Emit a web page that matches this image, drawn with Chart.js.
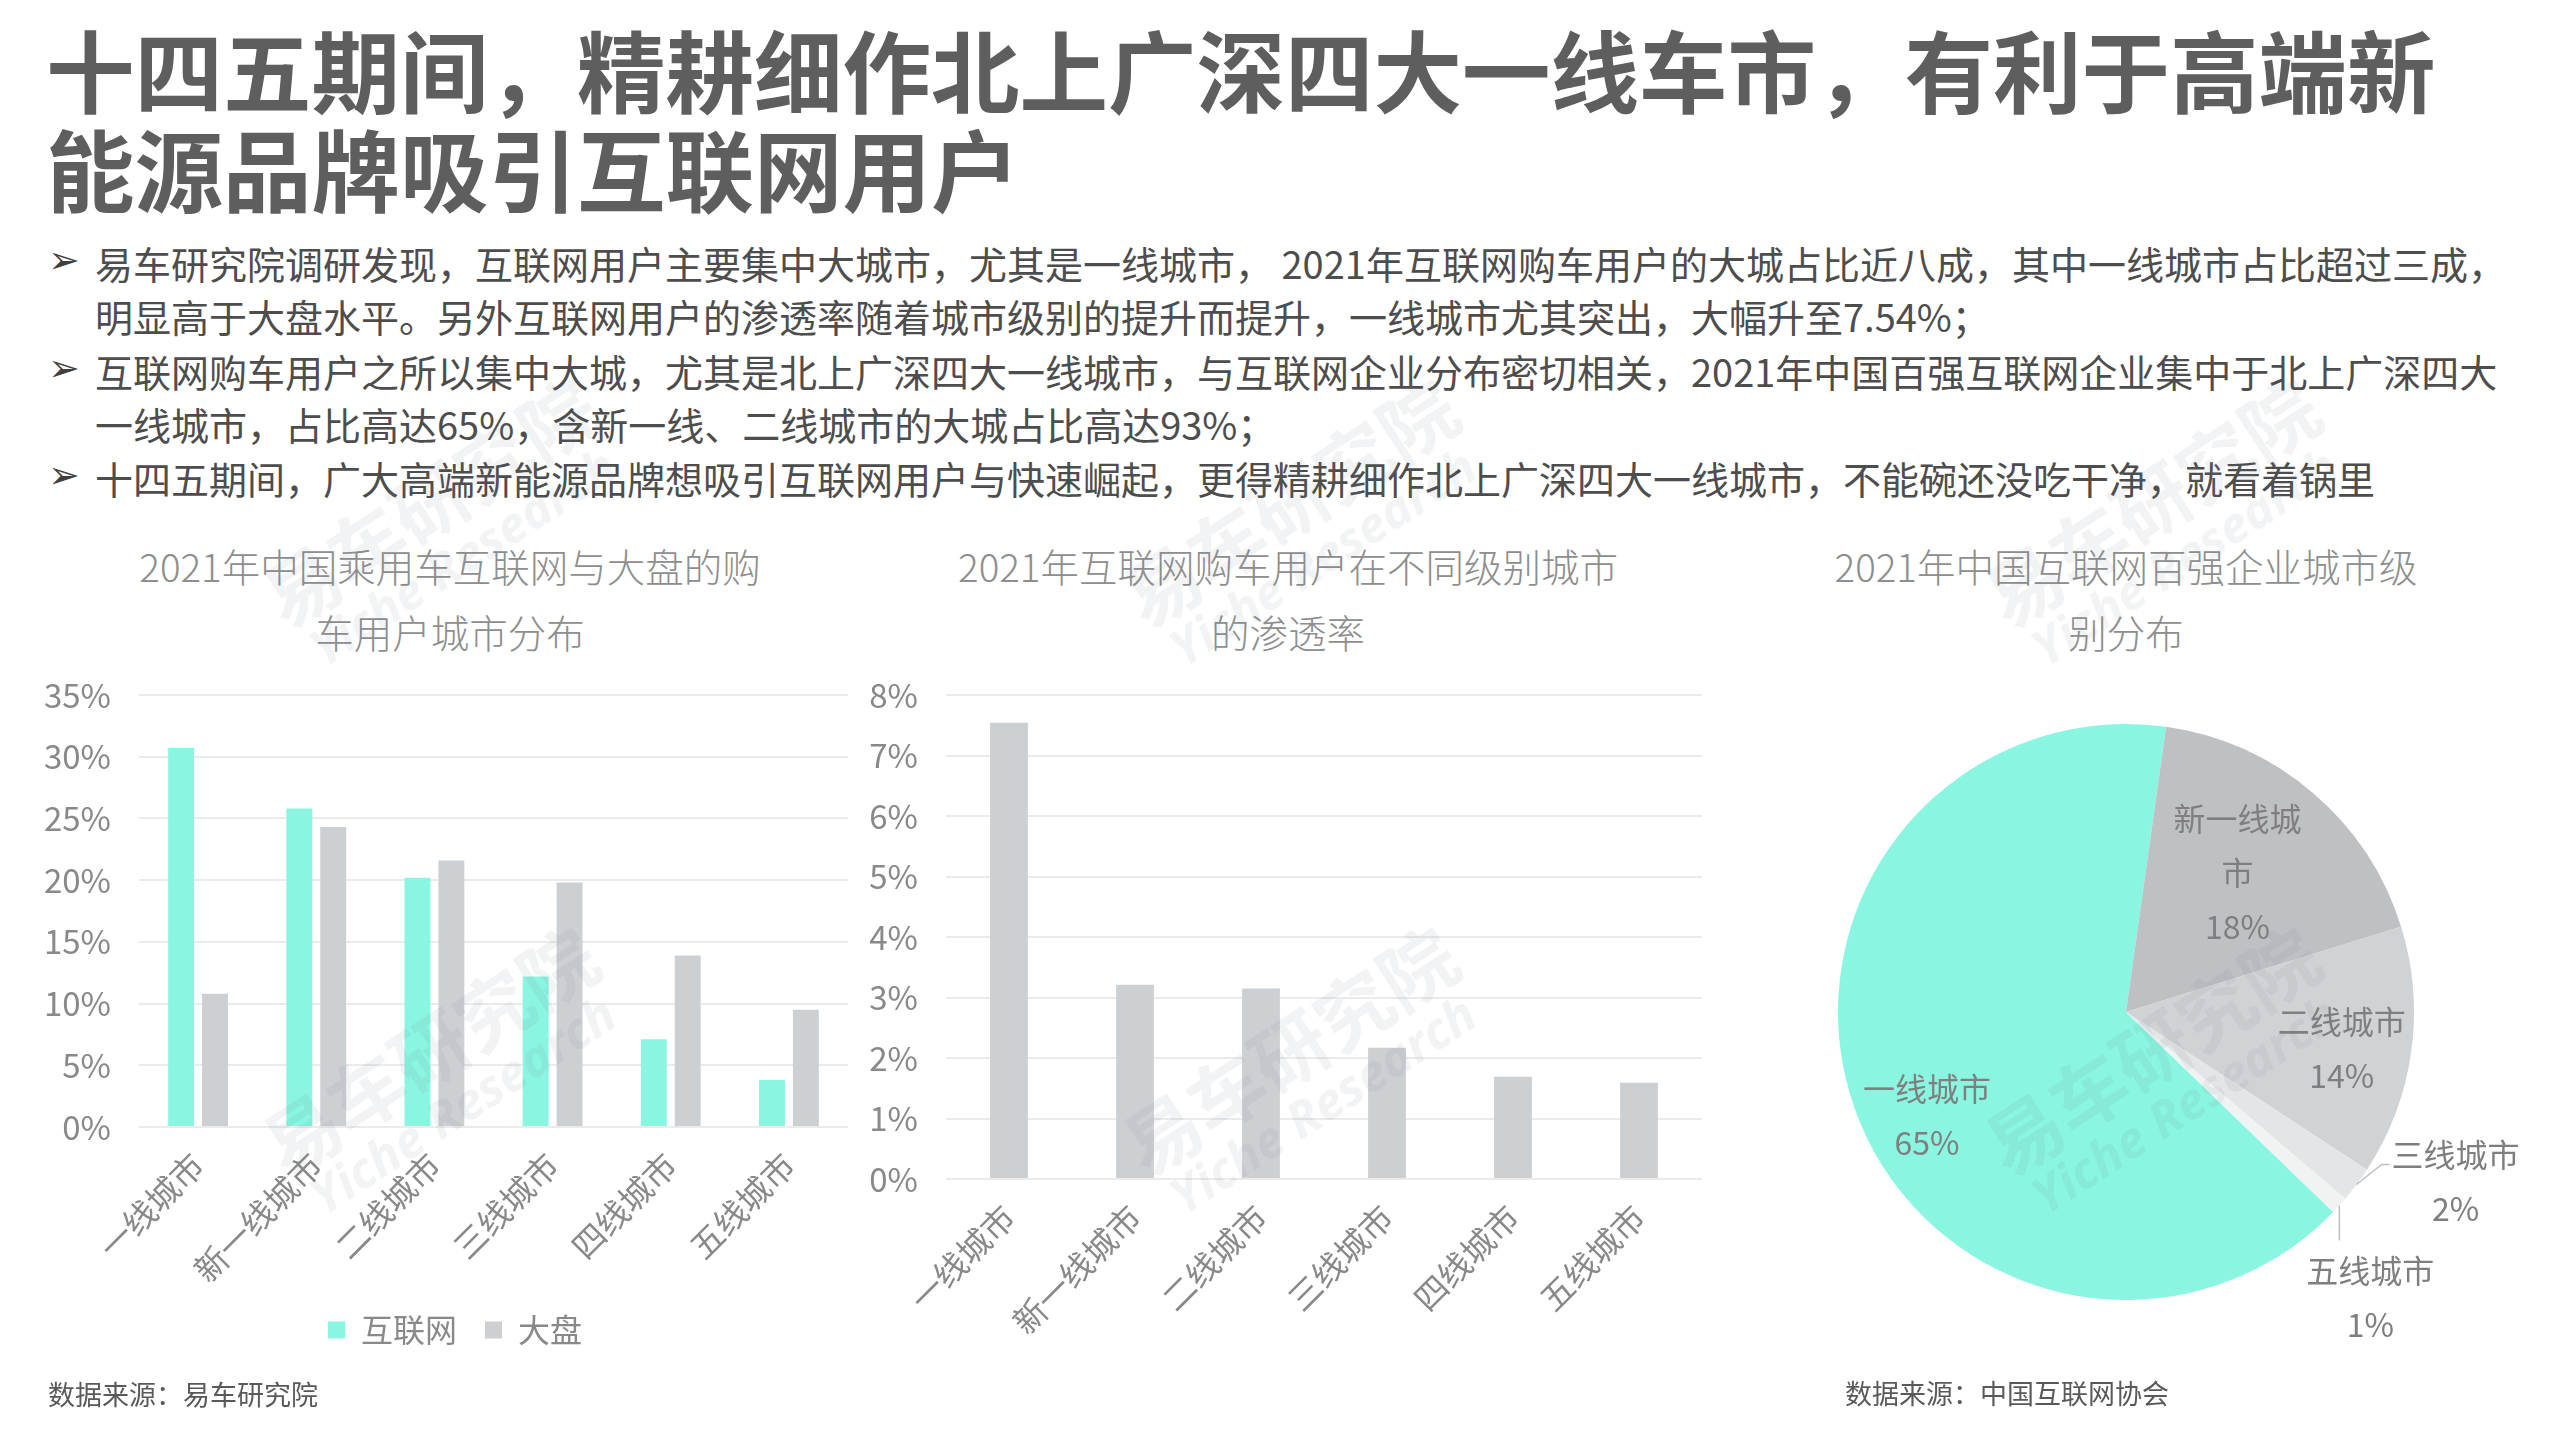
<!DOCTYPE html>
<html><head><meta charset="utf-8">
<script src="https://cdn.jsdelivr.net/npm/chart.js@4.4.1/dist/chart.umd.min.js"></script>
<style>
html,body{margin:0;padding:0;background:#fff;}
body{width:2560px;height:1440px;position:relative;overflow:hidden;font-family:"Noto Sans CJK SC","Noto Sans",sans-serif;}
.title{position:absolute;left:46px;top:18px;font-size:88.5px;font-weight:700;line-height:99px;color:#5e5e5e;white-space:nowrap;}
.bullet{position:absolute;left:95px;font-size:38px;line-height:53px;color:#4d4d4d;white-space:nowrap;}
.bullet::before{content:"➢";position:absolute;left:-47px;top:-2px;font-family:"DejaVu Sans";font-size:38px;color:#404040;}
.sub{position:absolute;width:900px;font-size:38.5px;line-height:66px;color:#8e8e8e;text-align:center;white-space:nowrap;font-weight:300;}
.src{position:absolute;font-size:27px;color:#595959;line-height:40px;white-space:nowrap;}
canvas{position:absolute;}
.wm{position:absolute;width:0;height:0;pointer-events:none;z-index:10;}
.wm div{position:absolute;left:0;top:0;transform:translate(-50%,-50%) rotate(-33deg);text-align:center;color:rgba(110,120,135,0.09);font-weight:700;white-space:nowrap;}
.wm .a{font-size:76px;line-height:80px;font-family:"Noto Sans CJK SC";}
.wm .b{font-size:50px;line-height:56px;font-family:"Open Sans","Noto Sans",sans-serif;font-style:italic;}
</style></head>
<body>
<div class="title">十四五期间，精耕细作北上广深四大一线车市，有利于高端新<br>能源品牌吸引互联网用户</div>
<div class="bullet" style="top:236px">易车研究院调研发现，互联网用户主要集中大城市，尤其是一线城市， 2021年互联网购车用户的大城占比近八成，其中一线城市占比超过三成，<br>明显高于大盘水平。另外互联网用户的渗透率随着城市级别的提升而提升，一线城市尤其突出，大幅升至7.54%；</div>
<div class="bullet" style="top:344px">互联网购车用户之所以集中大城，尤其是北上广深四大一线城市，与互联网企业分布密切相关，2021年中国百强互联网企业集中于北上广深四大<br>一线城市，占比高达65%，含新一线、二线城市的大城占比高达93%；</div>
<div class="bullet" style="top:451px">十四五期间，广大高端新能源品牌想吸引互联网用户与快速崛起，更得精耕细作北上广深四大一线城市，不能碗还没吃干净，就看着锅里</div>

<div class="sub" style="left:0px;top:532px">2021年中国乘用车互联网与大盘的购<br>车用户城市分布</div>
<div class="sub" style="left:838px;top:532px">2021年互联网购车用户在不同级别城市<br>的渗透率</div>
<div class="sub" style="left:1676px;top:532px">2021年中国互联网百强企业城市级<br>别分布</div>

<canvas id="c1" width="850" height="720" style="left:0;top:660px"></canvas>
<canvas id="c2" width="890" height="720" style="left:850px;top:660px"></canvas>
<canvas id="c3" width="780" height="700" style="left:1780px;top:680px"></canvas>

<div class="src" style="left:48px;top:1374px">数据来源：易车研究院</div>
<div class="src" style="left:1845px;top:1373px">数据来源：中国互联网协会</div>

<div class="wm" style="left:428px;top:500px"><div class="a">易车研究院</div><div class="b" style="left:34px;top:56px">Yiche Research</div></div>
<div class="wm" style="left:1288px;top:500px"><div class="a">易车研究院</div><div class="b" style="left:34px;top:56px">Yiche Research</div></div>
<div class="wm" style="left:2150px;top:500px"><div class="a">易车研究院</div><div class="b" style="left:34px;top:56px">Yiche Research</div></div>
<div class="wm" style="left:428px;top:1048px"><div class="a">易车研究院</div><div class="b" style="left:34px;top:56px">Yiche Research</div></div>
<div class="wm" style="left:1288px;top:1048px"><div class="a">易车研究院</div><div class="b" style="left:34px;top:56px">Yiche Research</div></div>
<div class="wm" style="left:2150px;top:1048px"><div class="a">易车研究院</div><div class="b" style="left:34px;top:56px">Yiche Research</div></div>

<script>
// ---- data ----
const barCategories = ['一线城市', '新一线城市', '二线城市', '三线城市', '四线城市', '五线城市'];
const seriesNames = ['互联网', '大盘'];
const internetShare = [30.7, 25.8, 20.2, 12.2, 7.1, 3.8];
const marketShare = [10.8, 24.3, 21.6, 19.8, 13.9, 9.5];
const penetrationRate = [7.54, 3.21, 3.15, 2.17, 1.69, 1.59];
const pieCategories = ['一线城市', '新一线城市', '二线城市', '三线城市', '五线城市'];
const pieShares = [65, 18, 14, 2, 1];

// ---- styling ----
const FONT = "'Noto Sans CJK SC', 'Noto Sans', sans-serif";
const TICK_COLOR = '#898989';
const GRID_COLOR = '#ebebeb';
Chart.defaults.font.family = FONT;
Chart.defaults.color = TICK_COLOR;
Chart.defaults.animation = false;
Chart.defaults.plugins.tooltip.enabled = false;

const legendShift = {
  id: 'legendShift',
  afterLayout(chart, args, opts) {
    if (chart.legend && opts.dx) { chart.legend.left += opts.dx; chart.legend.right += opts.dx; }
  }
};

function yAxis(max, step, width) {
  return {
    min: 0, max: max,
    ticks: { stepSize: step, padding: 28, color: TICK_COLOR, font: { size: 33 }, callback: v => v + '%' },
    grid: { color: GRID_COLOR, lineWidth: 2, drawTicks: false },
    border: { display: false },
    afterFit: s => { s.width = width; s.paddingTop = 0; s.paddingBottom = 0; }
  };
}
function xAxis(height) {
  return {
    ticks: { minRotation: 45, maxRotation: 45, autoSkip: false, padding: 18, color: TICK_COLOR, font: { size: 33 } },
    grid: { display: false, drawTicks: false },
    border: { display: false },
    afterFit: s => { s.height = height; }
  };
}

new Chart(document.getElementById('c1'), {
  type: 'bar',
  data: {
    labels: barCategories,
    datasets: [
      { label: seriesNames[0], data: internetShare, backgroundColor: '#8AF6E2', categoryPercentage: 0.574, barPercentage: 0.765 },
      { label: seriesNames[1], data: marketShare, backgroundColor: '#CDD0D3', categoryPercentage: 0.574, barPercentage: 0.765 }
    ]
  },
  options: {
    responsive: false, events: [],
    layout: { padding: { top: 35, right: 2, bottom: 24, left: 0 } },
    scales: { x: xAxis(159), y: yAxis(35, 5, 139) },
    plugins: {
      legend: { position: 'bottom', labels: { boxWidth: 17, boxHeight: 17, padding: 28, color: TICK_COLOR, font: { size: 32 } } },
      legendShift: { dx: 31 }
    }
  },
  plugins: [legendShift]
});

new Chart(document.getElementById('c2'), {
  type: 'bar',
  data: {
    labels: barCategories,
    datasets: [
      { label: '渗透率', data: penetrationRate, backgroundColor: '#CDD0D3', categoryPercentage: 0.6, barPercentage: 0.5 }
    ]
  },
  options: {
    responsive: false, events: [],
    layout: { padding: { top: 35, right: 38, bottom: 0, left: 0 } },
    scales: { x: xAxis(201), y: yAxis(8, 1, 96) },
    plugins: { legend: { display: false } }
  }
});

const pieLabelPlugin = {
  id: 'pieLabels',
  afterDatasetsDraw(chart, args, opts) {
    const ctx = chart.ctx;
    const meta = chart.getDatasetMeta(0);
    const labels = chart.data.labels;
    const values = chart.data.datasets[0].data;
    ctx.save();
    ctx.font = opts.fontSize + 'px ' + FONT;
    ctx.fillStyle = opts.color;
    ctx.textBaseline = 'middle';
    ctx.textAlign = 'center';
    meta.data.forEach((arc, i) => {
      const p = arc.getProps(['x', 'y', 'startAngle', 'endAngle', 'outerRadius'], true);
      const place = opts.placement[i];
      const mid = (p.startAngle + p.endAngle) / 2 + (place.da || 0) * Math.PI / 180;
      const name = labels[i];
      const lines = [];
      for (let k = 0; k < name.length; k += 4) lines.push(name.slice(k, k + 4));
      lines.push(values[i] + '%');
      const lh = opts.lineHeight;
      if (place.type === 'inside') {
        const r = p.outerRadius * place.r;
        const cx = p.x + Math.cos(mid) * r, cy = p.y + Math.sin(mid) * r;
        lines.forEach((l, k) => ctx.fillText(l, cx, cy + (k - (lines.length - 1) / 2) * lh));
      } else {
        const midReal = (p.startAngle + p.endAngle) / 2;
        let px = p.x + Math.cos(midReal) * p.outerRadius, py = p.y + Math.sin(midReal) * p.outerRadius;
        ctx.beginPath();
        ctx.strokeStyle = opts.lineColor; ctx.lineWidth = 1.5;
        ctx.moveTo(px, py);
        place.leader.forEach(([dx, dy]) => { px += dx; py += dy; ctx.lineTo(px, py); });
        ctx.stroke();
        const w = Math.max(...lines.map(l => ctx.measureText(l).width));
        let bx, by;
        if (place.type === 'right') { bx = px + 2 + w / 2; by = py - 10; }
        else { bx = px + 31; by = py + 30; }
        lines.forEach((l, k) => ctx.fillText(l, bx, by + k * lh));
      }
    });
    ctx.restore();
  }
};

new Chart(document.getElementById('c3'), {
  type: 'pie',
  data: {
    labels: pieCategories,
    datasets: [{ data: pieShares, backgroundColor: ['#8AF6E2', '#BEC0C4', '#D0D3D6', '#E3E5E7', '#F1F3F3'], borderWidth: 0 }]
  },
  options: {
    responsive: false, events: [],
    rotation: 134,
    layout: { padding: { left: 58, right: 146, top: 44, bottom: 80 } },
    plugins: {
      legend: { display: false },
      pieLabels: {
        fontSize: 32, lineHeight: 54, color: '#7f7f7f', lineColor: '#bfbfbf',
        placement: [
          { type: 'inside', r: 0.78, da: -8.6 },
          { type: 'inside', r: 0.62, da: -1.8 },
          { type: 'inside', r: 0.76, da: 1.7 },
          { type: 'right', leader: [[25, -20], [8, 0]] },
          { type: 'below', leader: [[0, 35]] }
        ]
      }
    }
  },
  plugins: [pieLabelPlugin]
});
</script>
</body></html>
